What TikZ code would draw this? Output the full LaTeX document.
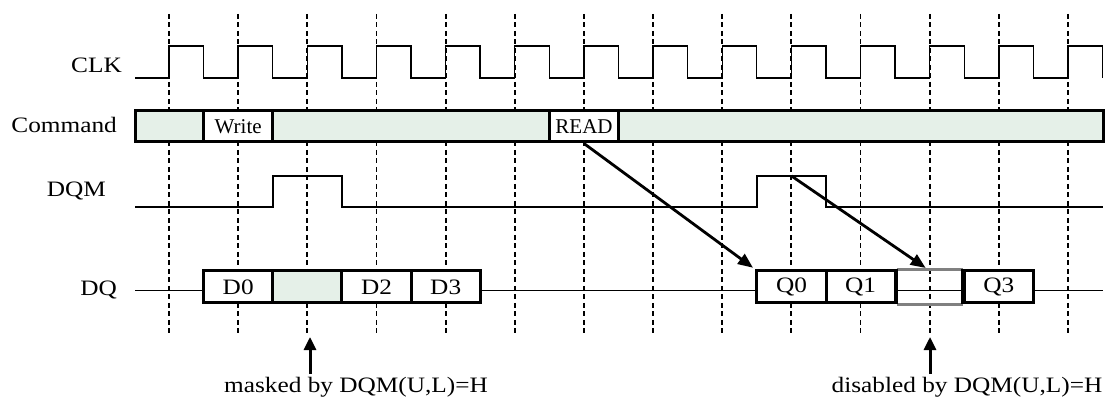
\documentclass[tikz,border=0pt]{standalone}
\usepackage{fontspec}
\setmainfont{Liberation Serif}[FakeStretch=1.15]
\newfontfamily\cellfont{Liberation Serif}
\usetikzlibrary{arrows.meta}
\definecolor{cmdfill}{RGB}{229,240,232}
\definecolor{gapgray}{RGB}{128,128,128}
\begin{document}
\begin{tikzpicture}[x=1pt,y=-1pt,
  lbl/.style={font=\fontsize{22}{26}\selectfont, inner sep=0pt, anchor=base east},
  note/.style={font=\fontsize{22}{26}\selectfont, inner sep=0pt, anchor=base},
  gridline/.style={dash pattern=on 5pt off 3.5pt, line width=1.8pt},
  wave/.style={line width=1.4pt},
  bar/.style={draw, line width=3pt, fill=cmdfill, minimum height=31pt, inner sep=0pt},
  cell/.style={draw, line width=3pt, fill=white, minimum width=69.15pt, minimum height=31pt, inner sep=0pt, font=\cellfont\fontsize{21}{24}\selectfont},
  dbox/.style={draw, line width=3pt, fill=white, minimum width=69.15pt, minimum height=32pt, inner sep=0pt, font=\fontsize{22}{26}\selectfont},
  gbox/.style={dbox, fill=cmdfill},
  slot/.style={minimum width=69.15pt, minimum height=32pt, inner sep=0pt},
  bigarrow/.style={line width=2.8pt, -{Triangle[length=15pt,width=12pt]}},
  uparrow/.style={line width=3pt, -{Triangle[length=13pt,width=12pt]}}
]
\useasboundingbox (0,0) rectangle (1112,398);

% clock grid
\foreach \k in {0,...,13}
  \draw[gridline] ({169+\k*69.15},14) -- ({169+\k*69.15},336);

% labels
\node[lbl] (lclk) at (122,72.7) {CLK};
\node[lbl] (lcmd) at (117,132.3) {Command};
\node[lbl] (ldqm) at (106,196.7) {DQM};
\node[lbl] (ldq) at (117,296) {DQ};

% CLK
\draw[wave] (135,78) \foreach \k in {0,...,13} {
  -- ({169+\k*69.15},78) -- ({169+\k*69.15},46)
  -- ({203.575+\k*69.15},46) -- ({203.575+\k*69.15},78) };

% Command bar
\node[bar, minimum width=968pt] (cmd) at (619,126.5) {};
\node[cell] (wr) at (238.2,126.5) {Write};
\node[cell] (rd) at (584.0,126.5) {READ};

% DQM
\draw[wave] (135,207) -- (272.8,207) -- (272.8,176) -- (342,176) -- (342,207)
  -- (757,207) -- (757,176) -- (826,176) -- (826,207) -- (1103,207);
\coordinate (p2) at (791.5,176);

% DQ
\draw[wave] (135,290.5) -- (1103,290.5);
\node[dbox] (d0) at (238.2,287) {D0};
\node[gbox] (d1) at (307.4,287) {};
\node[dbox] (d2) at (376.5,287) {D2};
\node[dbox] (d3) at (445.7,287) {D3};
\node[dbox] (q0) at (791.5,287) {Q0};
\node[dbox] (q1) at (860.6,287) {Q1};
\node[slot] (dis) at (929.8,287) {};
\node[dbox] (q3) at (998.9,287) {Q3};
\draw[gapgray, line width=2.6pt] (q1.north east) -- (q3.north west);
\draw[gapgray, line width=2.6pt] (q1.south east) -- (q3.south west);
\draw[line width=3pt] (q1.north east) -- (q1.south east);
\draw[line width=3pt] (q3.north west) -- (q3.south west);

% arrows
\draw[bigarrow, shorten >=3pt] (rd.south) -- (q0.north west);
\draw[bigarrow, shorten >=5pt] (p2) -- (dis.north);

\coordinate (m1) at (310,374);
\coordinate (m2) at (310,337);
\coordinate (n1) at (930,374);
\coordinate (n2) at (930,337);
\draw[uparrow] (m1) -- (m2);
\draw[uparrow] (n1) -- (n2);

\node[note] (mlab) at (356,392) {masked by DQM(U,L)=H};
\node[note] (dlab) at (967,392) {disabled by DQM(U,L)=H};
\end{tikzpicture}
\end{document}
